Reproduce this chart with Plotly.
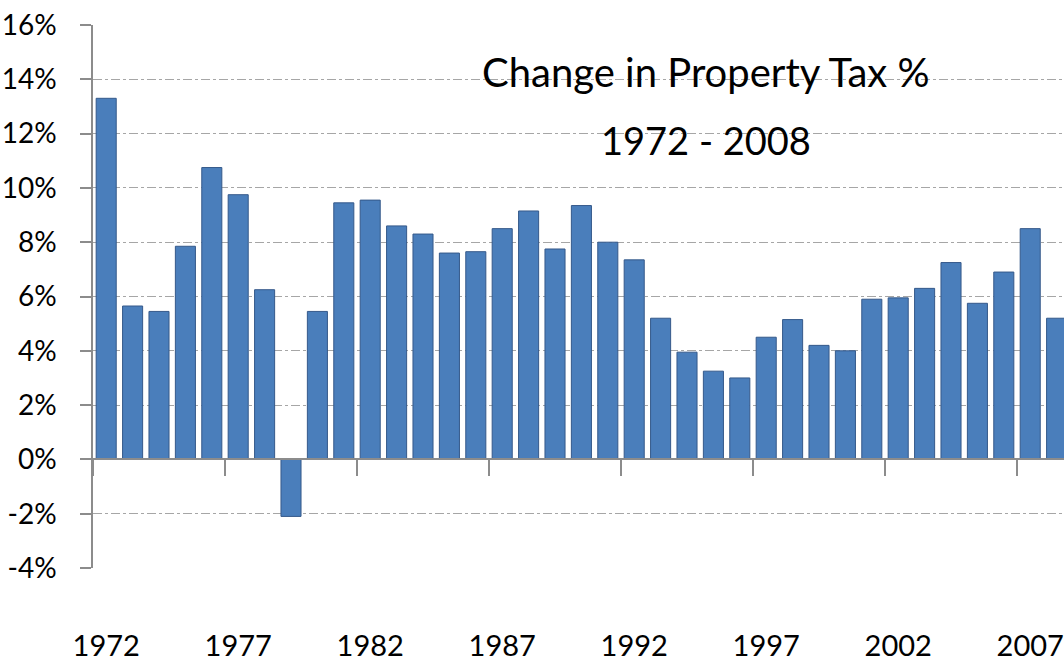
import plotly.graph_objects as go

years = [str(y) for y in range(1972, 2009)]
changes = [13.3, 5.65, 5.45, 7.85, 10.75, 9.75, 6.25, -2.1, 5.45, 9.45,
           9.55, 8.6, 8.3, 7.6, 7.65, 8.5, 9.15, 7.75, 9.35, 8.0,
           7.35, 5.2, 3.95, 3.25, 3.0, 4.5, 5.15, 4.2, 4.0, 5.9,
           5.95, 6.3, 7.25, 5.75, 6.9, 8.5, 5.2]
y_ticks = [-4, -2, 0, 2, 4, 6, 8, 10, 12, 14, 16]
y_tick_labels = [f"{v}%" for v in y_ticks]
title_lines = ["Change in Property Tax %", "1972 - 2008"]

FONT = "Lato"
GRID = "#a6a6a6"
AXIS = "#8c8c8c"

fig = go.Figure()
fig.add_trace(go.Bar(
    x=years, y=changes,
    marker=dict(color="#4a7ebb", line=dict(color="#35598a", width=1)),
    width=0.76, hoverinfo="x+y", showlegend=False,
))
# invisible helper trace for the zero-line category axis
fig.add_trace(go.Scatter(
    x=years, y=changes, xaxis="x2", mode="markers",
    marker=dict(opacity=0), hoverinfo="skip", showlegend=False,
))

fig.update_layout(
    width=1064, height=668,
    margin=dict(l=93, r=0, t=25, b=100),
    paper_bgcolor="white", plot_bgcolor="white",
    font=dict(family=FONT, color="black"),
    xaxis=dict(
        type="category", categoryarray=years, categoryorder="array",
        range=[-0.5, 36.28], automargin=False,
        tickmode="array", tickvals=years[::5], ticktext=years[::5],
        ticks="", showline=False, showgrid=False, zeroline=False,
        tickfont=dict(size=29, family=FONT, color="black"),
        ticklabelstandoff=58,
    ),
    xaxis2=dict(
        type="category", categoryarray=years, categoryorder="array",
        range=[-0.5, 36.28], overlaying="x", anchor="free", position=0.2,
        side="bottom", showticklabels=False, showgrid=False, zeroline=False,
        showline=True, linecolor=AXIS, linewidth=1.5, automargin=False,
        ticks="outside", ticklen=16, tickcolor=AXIS, tickwidth=1.5,
        tickson="boundaries", dtick=5,
    ),
    yaxis=dict(
        range=[-4, 16], tickmode="array", tickvals=y_ticks, ticktext=y_tick_labels,
        showgrid=True, gridcolor=GRID, griddash="dashdot", gridwidth=1,
        zeroline=False, showline=True, linecolor=AXIS, linewidth=1.5,
        ticks="outside", ticklen=11, tickcolor=AXIS, tickwidth=1.5,
        tickfont=dict(size=28, family=FONT, color="black"),
        ticklabelstandoff=18, automargin=False,
    ),
    bargap=0.24,
)

# white title box sitting over the gridlines
fig.add_shape(type="rect", xref="paper", yref="paper",
              x0=0.388, x1=0.877, y0=0.69, y1=0.972,
              fillcolor="white", line=dict(width=0), layer="between")
fig.add_annotation(text=title_lines[0], xref="paper", yref="paper",
                   x=0.631, y=0.913, showarrow=False, xanchor="center", yanchor="middle",
                   font=dict(size=40, family=FONT, color="black"))
fig.add_annotation(text=title_lines[1], xref="paper", yref="paper",
                   x=0.631, y=0.788, showarrow=False, xanchor="center", yanchor="middle",
                   font=dict(size=38, family=FONT, color="black"))

fig.write_html(
    "out.html",
    config={"displayModeBar": False},
    post_script="document.body.style.margin='0';document.body.style.padding='0';"
                "document.body.style.overflow='hidden';",
)
